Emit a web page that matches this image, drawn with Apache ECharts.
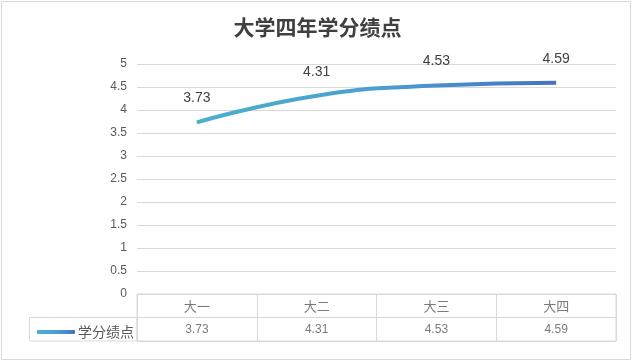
<!DOCTYPE html>
<html><head><meta charset="utf-8">
<script src="https://cdn.jsdelivr.net/npm/echarts@6/dist/echarts.min.js"></script>
<style>html,body{margin:0;padding:0;background:#fff}#c{width:635px;height:362px}</style>
</head><body><div id="c"></div>
<script>
var titleText = '大学四年学分绩点';
var seriesName = '学分绩点';
var categories = ['大一', '大二', '大三', '大四'];
var gpa = [3.73, 4.31, 4.53, 4.59];
var yTicks = {min: 0, max: 5, interval: 0.5};

var chart = echarts.init(document.getElementById('c'), null, {renderer: 'canvas'});
var gridLine = '#d9d9d9';
var txt = '#595959';
var fontF = '"Liberation Sans", "Noto Sans CJK SC", sans-serif';
function mkGrad() {
  return new echarts.graphic.LinearGradient(0, 0, 1, 0, [
    {offset: 0, color: '#4bb0cc'},
    {offset: 0.5, color: '#4a9fd0'},
    {offset: 1, color: '#4472c4'}
  ]);
}

chart.setOption({
  animation: false,
  title: {
    text: titleText, left: 'center', top: 12,
    textStyle: {fontFamily: '"Noto Sans CJK SC", sans-serif', fontWeight: 'bold', fontSize: 21, color: '#404040'}
  },
  legend: {
    data: [{name: seriesName, icon: 'roundRect', itemStyle: {color: mkGrad(), opacity: 1}}],
    left: 32, top: 320, itemWidth: 38, itemHeight: 4, itemGap: 4,
    textStyle: {fontFamily: '"Noto Sans CJK SC", sans-serif', fontSize: 14, color: txt, padding: [0, 0, 0, -2]},
    selectedMode: false
  },
  grid: [
    {left: 137, top: 64, width: 479, height: 230, containLabel: false},
    {left: 137, top: 294, width: 479, height: 47, show: true, borderColor: gridLine, borderWidth: 1}
  ],
  xAxis: [
    {type: 'category', gridIndex: 0, data: categories, boundaryGap: true,
     axisLine: {show: false}, axisTick: {show: false}, axisLabel: {show: false}, splitLine: {show: false}},
    {type: 'category', gridIndex: 1, data: categories, boundaryGap: true,
     axisLine: {show: false}, axisTick: {show: false}, axisLabel: {show: false},
     splitLine: {show: true, interval: 0, lineStyle: {color: gridLine, width: 1}}}
  ],
  yAxis: [
    {type: 'value', gridIndex: 0, min: yTicks.min, max: yTicks.max, interval: yTicks.interval,
     axisLine: {show: false}, axisTick: {show: false},
     axisLabel: {color: txt, fontSize: 12, fontFamily: fontF, margin: 10},
     splitLine: {lineStyle: {color: gridLine, width: 1}}},
    {type: 'value', gridIndex: 1, min: 0, max: 2, interval: 1,
     axisLine: {show: false}, axisTick: {show: false}, axisLabel: {show: false},
     splitLine: {show: true, lineStyle: {color: gridLine, width: 1}}}
  ],
  series: [
    {name: seriesName, type: 'line', xAxisIndex: 0, yAxisIndex: 0, data: gpa, smooth: 0.5,
     symbol: 'circle', symbolSize: 0.01, showSymbol: true,
     itemStyle: {color: 'rgba(0,0,0,0)'},
     lineStyle: {width: 4, color: mkGrad(), cap: 'butt'},
     label: {show: true, position: 'top', distance: 17, fontSize: 14, color: '#404040', fontFamily: fontF}},
    {type: 'scatter', xAxisIndex: 1, yAxisIndex: 1, symbolSize: 0, silent: true,
     data: categories.map(function (c) { return [c, 1.5]; }),
     label: {show: true, position: 'inside', formatter: function (p) { return p.value[0]; },
       fontSize: 13, color: txt, fontFamily: '"Noto Sans CJK SC", sans-serif'}},
    {type: 'scatter', xAxisIndex: 1, yAxisIndex: 1, symbolSize: 0, silent: true,
     data: categories.map(function (c, i) { return [c, 0.5, gpa[i]]; }),
     label: {show: true, position: 'inside', formatter: function (p) { return p.value[2].toFixed(2); },
       fontSize: 12, color: txt, fontFamily: fontF}}
  ],
  graphic: [
    {type: 'rect', shape: {x: 1.5, y: 1.5, width: 629, height: 358}, style: {fill: 'none', stroke: gridLine, lineWidth: 1}, silent: true},
    {type: 'rect', shape: {x: 29.5, y: 317.5, width: 107.5, height: 23.5}, style: {fill: 'none', stroke: gridLine, lineWidth: 1}, silent: true}
  ]
});
</script></body></html>
